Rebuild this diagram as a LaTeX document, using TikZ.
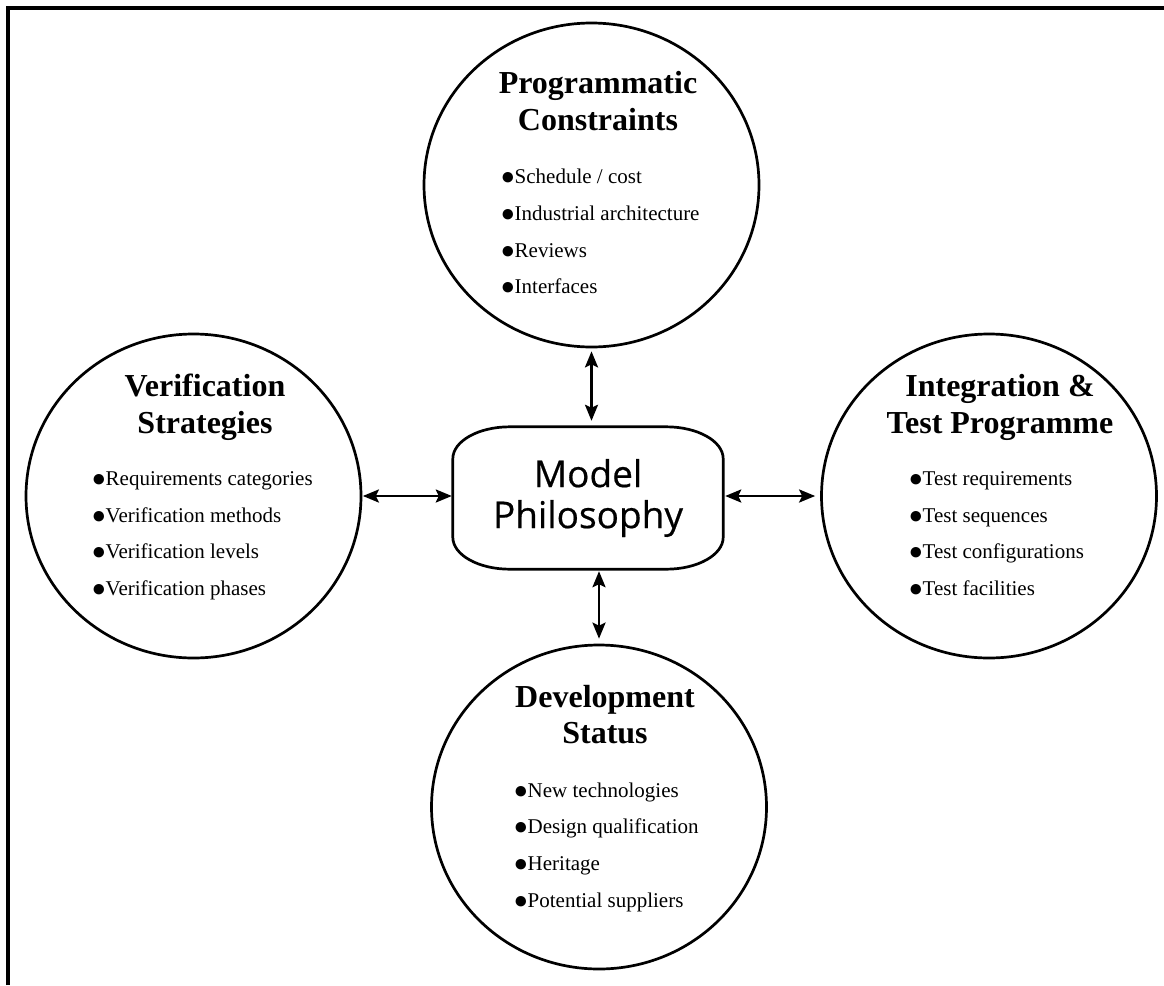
\documentclass[tikz,border=0pt]{standalone}
\usepackage{graphicx}
\usepackage{fontspec}
\setmainfont{Liberation Serif}
\newfontfamily\mpfont[FakeBold=0.5]{Open Sans}
\newcommand\bul{\makebox[12.5pt][l]{\hspace*{-1.5pt}\raisebox{-0.05em}{\scalebox{1.15}{●}}}}
\usetikzlibrary{shapes.geometric,arrows.meta}
\begin{document}
\begin{tikzpicture}[x=1pt,y=-1pt,
  bubble/.style={draw, line width=2.7pt, ellipse, minimum width=335pt, minimum height=324pt, inner sep=0pt},
  ttl/.style={anchor=base, inner sep=0pt, font=\fontsize{32}{36}\selectfont\bfseries},
  itm/.style={anchor=base west, inner sep=0pt, font=\fontsize{21}{25}\selectfont},
  tip/.tip={Stealth[length=16pt,width=13pt,inset=3pt]},
  link/.style={line width=2.6pt, tip-tip},
  frame/.style={line width=3.2pt},
  boxline/.style={line width=2.7pt},
]
\useasboundingbox (0,0) rectangle (1164,985);

% frame
\coordinate (f1) at (8,985);
\coordinate (f2) at (8,8);
\coordinate (f3) at (1164,8);
\draw[frame] (f1) -- (f2) -- (f3);

% circles
\node[bubble] (pc) at (591.5,185) {};
\node[bubble] (vs) at (193.5,496) {};
\node[bubble] (it) at (989,496) {};
\node[bubble] (ds) at (599,807) {};

% central box
\node[minimum width=270pt, minimum height=142pt, inner sep=0pt, align=center,
      font=\mpfont\fontsize{37}{41}\selectfont] (mp) at (588,498) {Model\\Philosophy};
\draw[boxline] ([xshift=57pt]mp.north west) -- ([xshift=-57pt]mp.north east)
  arc[start angle=90, end angle=0, x radius=57pt, y radius=32pt]
  -- ([yshift=32pt]mp.south east)
  arc[start angle=0, end angle=-90, x radius=57pt, y radius=32pt]
  -- ([xshift=57pt]mp.south west)
  arc[start angle=270, end angle=180, x radius=57pt, y radius=32pt]
  -- ([yshift=-32pt]mp.north west)
  arc[start angle=180, end angle=90, x radius=57pt, y radius=32pt] -- cycle;

% titles
\node[ttl] (pct1) at (598,93) {Programmatic};
\node[ttl] (pct2) at (598,130) {Constraints};
\node[ttl] (vst1) at (205,396) {Verification};
\node[ttl] (vst2) at (205,433) {Strategies};
\node[ttl] (itt1) at (1000,396) {Integration \&};
\node[ttl] (itt2) at (1000,433) {Test Programme};
\node[ttl] (dst1) at (605,707) {Development};
\node[ttl] (dst2) at (605,743) {Status};

% items
\node[itm] (pci1) at (502,183) {\bul Schedule / cost};
\node[itm] (pci2) at (502,220) {\bul Industrial architecture};
\node[itm] (pci3) at (502,257) {\bul Reviews};
\node[itm] (pci4) at (502,293) {\bul Interfaces};

\node[itm] (vsi1) at (93,485) {\bul Requirements categories};
\node[itm] (vsi2) at (93,522) {\bul Verification methods};
\node[itm] (vsi3) at (93,558) {\bul Verification levels};
\node[itm] (vsi4) at (93,595) {\bul Verification phases};

\node[itm] (iti1) at (910,485) {\bul Test requirements};
\node[itm] (iti2) at (910,522) {\bul Test sequences};
\node[itm] (iti3) at (910,558) {\bul Test configurations};
\node[itm] (iti4) at (910,595) {\bul Test facilities};

\node[itm] (dsi1) at (515,797) {\bul New technologies};
\node[itm] (dsi2) at (515,833) {\bul Design qualification};
\node[itm] (dsi3) at (515,870) {\bul Heritage};
\node[itm] (dsi4) at (515,907) {\bul Potential suppliers};

% connectors
\draw[link, shorten <=3pt, shorten >=6pt] (pc.south) -- (pc.south |- mp.north);
\draw[link, shorten <=5pt, shorten >=2pt] (ds.north) -- (ds.north |- mp.south);
\draw[link, shorten <=0.5pt, shorten >=1pt] (vs.east) -- (vs.east -| mp.west);
\draw[link, shorten <=5pt, shorten >=2pt] (it.west) -- (it.west -| mp.east);
\end{tikzpicture}
\end{document}
